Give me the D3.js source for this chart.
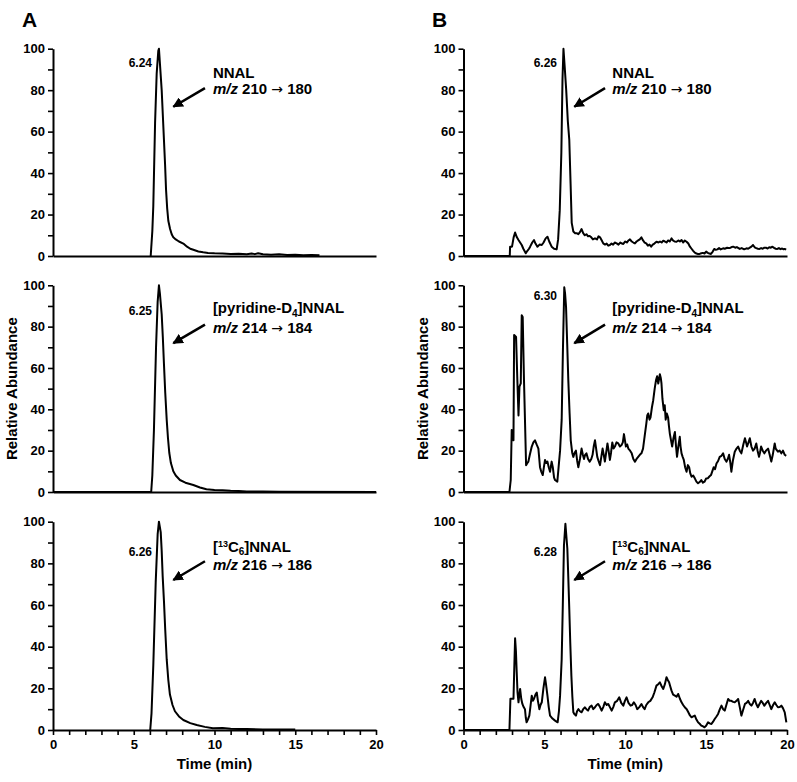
<!DOCTYPE html>
<html><head><meta charset="utf-8">
<script src="https://cdn.jsdelivr.net/npm/d3@7"></script>
<style>
body{margin:0;background:#fff;}
svg text{font-family:"Liberation Sans",Arial,sans-serif;font-weight:bold;fill:#000;}
</style></head>
<body><svg id="c" width="797" height="782"></svg>
<script>
// ---------- DATA ----------
const xTicks = [0,5,10,15,20];
const yTicks = [0,20,40,60,80,100];
const panelLetters = ["A","B"];
const peakLabels = [["6.24","6.25","6.26"],["6.26","6.30","6.28"]];
const compounds = ["NNAL","[pyridine-D4]NNAL","[13C6]NNAL"];
const transitions = [["210","180"],["214","184"],["216","186"]];

// Panel A (standard) traces: [time, relative abundance]
const traceA1 = [[6.05,0],[6.15,12],[6.21,24],[6.32,64],[6.42,88],[6.52,99],[6.56,100],[6.62,93],[6.73,80],[6.8,68],[6.87,56],[6.94,44],[7.0,32],[7.07,23],[7.14,17],[7.25,13],[7.35,10.5],[7.45,9],[7.6,8],[7.8,7],[8.07,6],[8.3,4.5],[8.5,3.5],[8.69,3],[9.0,2.2],[9.3,1.8],[9.6,1.5],[10.0,1.3],[10.5,1.2],[11.0,1.0],[11.5,1.1],[12.0,0.8],[12.3,1.2],[12.5,0.9],[12.7,1.3],[13.0,0.8],[13.5,0.6],[14.0,0.9],[14.5,0.5],[15.0,0.6],[15.5,0.4],[16.0,0.5],[16.5,0.4]];
const traceA2 = [[0,0],[6.08,0],[6.15,8],[6.25,30],[6.38,70],[6.48,92],[6.56,100],[6.62,96],[6.73,86],[6.8,75],[6.87,62],[6.95,48],[7.04,35],[7.12,26],[7.2,19],[7.3,14],[7.45,10],[7.6,8],[7.86,5.8],[8.2,4.5],[8.69,3.4],[9.1,2.2],[9.5,1.3],[10.0,1],[10.5,0.8],[11.0,0.6],[11.5,0.5],[12.0,0.3],[13,0.2],[14,0.1],[20,0]];
const traceA3 = [[6.02,0],[6.1,8],[6.21,31],[6.36,71],[6.48,94],[6.56,100],[6.67,95],[6.73,86],[6.79,74],[6.87,62],[6.95,48],[7.04,34],[7.14,24],[7.24,17],[7.4,12],[7.55,9],[7.8,6.5],[8.07,4.8],[8.5,3.3],[8.9,2.4],[9.4,1.5],[9.9,0.8],[10.5,1],[11,0.6],[11.5,0.5],[12,0.5],[13,0.3],[14,0.2],[15,0.2]];

// Panel B (sample) traces
const traceB1 = [[0,0],[2.86,0],[2.88,4.5],[3.0,4.5],[3.1,9],[3.19,11.3],[3.3,9],[3.4,7.7],[3.5,6.5],[3.6,5.3],[3.7,3.5],[3.85,1.3],[3.95,2.5],[4.05,3.5],[4.12,4.5],[4.25,6.5],[4.36,7.7],[4.45,6],[4.57,4.5],[4.7,5.5],[4.84,5.3],[4.95,6.5],[5.08,8.5],[5.19,9.3],[5.3,7],[5.45,4.5],[5.6,3.5],[5.76,3.2],[5.85,8],[5.95,22],[6.05,50],[6.12,85],[6.18,100],[6.25,92],[6.35,80],[6.45,65],[6.54,56],[6.62,35],[6.69,16],[6.79,11.8],[6.9,11],[7.0,11],[7.1,10.5],[7.2,11.5],[7.3,13],[7.4,11],[7.5,10],[7.6,10.5],[7.7,9.5],[7.8,9.7],[7.9,9],[8.0,8],[8.13,8.5],[8.25,8],[8.35,9.5],[8.44,9],[8.55,7.5],[8.64,6.1],[8.75,5.5],[8.85,6],[8.95,5],[9.05,5.3],[9.15,6],[9.25,5.5],[9.35,6.5],[9.47,6.1],[9.58,5.5],[9.7,6.5],[9.8,6],[9.88,5.8],[10.0,7],[10.1,6.5],[10.2,7.5],[10.29,8],[10.4,7],[10.5,6.5],[10.6,6.1],[10.7,7],[10.8,7.5],[10.9,8],[11.0,9],[11.1,7.5],[11.2,6.5],[11.3,6.1],[11.4,5],[11.5,5.5],[11.6,4.5],[11.7,5.5],[11.8,6],[11.93,6.9],[12.05,6.5],[12.15,7],[12.25,6.5],[12.35,7.4],[12.45,7],[12.55,6.5],[12.65,7.5],[12.75,7],[12.86,8.5],[12.95,7.5],[13.05,7],[13.17,6.9],[13.28,7.5],[13.38,7],[13.48,7.7],[13.58,6.5],[13.68,7.5],[13.79,6.9],[13.9,6],[14.0,4.5],[14.1,3.5],[14.2,2.5],[14.3,1.6],[14.4,1.2],[14.5,1],[14.6,1],[14.7,1.3],[14.8,1.5],[14.9,1.2],[15.0,2.1],[15.1,1.5],[15.2,1.2],[15.3,1],[15.4,2],[15.5,3.4],[15.6,3],[15.7,3.2],[15.8,3.8],[15.9,3.2],[16.05,3.7],[16.15,3.5],[16.3,4],[16.45,3.8],[16.55,4.2],[16.67,4.5],[16.8,4],[16.9,4.3],[17.0,3.8],[17.08,3.4],[17.2,3.8],[17.35,3.2],[17.5,3.7],[17.6,3.5],[17.7,4],[17.8,4.5],[17.9,5.3],[18.0,4.2],[18.1,3.8],[18.2,3.5],[18.3,3.4],[18.4,3.8],[18.5,3.5],[18.6,4],[18.7,4],[18.8,3.6],[18.9,4.2],[19.0,4],[19.1,4.5],[19.2,3.9],[19.3,3.5],[19.4,3.4],[19.5,3.8],[19.6,3.3],[19.7,3.6],[19.8,3.2],[19.86,3.4],[19.95,3.1]];
const traceB2 = [[0,0],[2.84,0],[2.92,5.8],[2.98,30],[3.05,28],[3.09,25],[3.13,76],[3.25,75],[3.33,54],[3.4,37],[3.46,51],[3.54,52.5],[3.6,85.5],[3.66,84.7],[3.74,54],[3.87,13],[3.95,14],[4.01,14.7],[4.1,18],[4.22,22],[4.32,24],[4.42,25],[4.52,23],[4.63,21],[4.73,12],[4.8,10],[4.9,8.2],[4.97,12],[5.04,15.5],[5.12,14],[5.19,14.7],[5.27,12],[5.35,9.8],[5.45,14.7],[5.52,12],[5.6,7],[5.66,5.8],[5.8,5],[5.88,12],[5.97,20],[6.07,35],[6.15,70],[6.23,99],[6.28,96],[6.34,89.5],[6.41,72],[6.48,54],[6.56,38],[6.63,25],[6.72,19],[6.79,17],[6.87,19],[6.95,20],[7.03,15],[7.1,12],[7.2,16],[7.3,21],[7.38,18],[7.45,16],[7.52,18],[7.6,18.7],[7.7,16],[7.8,14.7],[7.9,16],[7.98,18],[8.05,22],[8.13,25],[8.2,21],[8.27,17],[8.35,15],[8.44,13],[8.52,17],[8.6,21],[8.67,18],[8.74,14.7],[8.82,19],[8.9,23.5],[8.97,20],[9.05,15.5],[9.12,19],[9.2,24],[9.28,21],[9.36,22],[9.46,24],[9.57,23.5],[9.67,22],[9.77,22.7],[9.85,24],[9.92,28],[9.98,25],[10.04,22],[10.12,23],[10.19,21],[10.3,20],[10.4,18.7],[10.5,16],[10.6,14.7],[10.7,16],[10.8,17],[10.9,18],[11.0,18.7],[11.1,21],[11.2,27],[11.3,33],[11.36,37],[11.42,38],[11.5,35],[11.56,36],[11.65,41],[11.73,44.4],[11.82,50],[11.9,54],[11.97,56],[12.04,52.5],[12.1,55],[12.14,57],[12.2,55],[12.24,52.5],[12.3,45],[12.38,39.6],[12.44,42],[12.5,35],[12.57,38],[12.65,36],[12.7,32],[12.76,28],[12.83,25],[12.9,22],[12.98,26],[13.07,29],[13.14,22],[13.2,17],[13.28,22],[13.37,26.7],[13.42,22],[13.48,18.7],[13.55,17],[13.62,15.5],[13.7,12],[13.79,9.8],[13.87,13],[13.95,12],[14.02,9],[14.1,7.4],[14.2,8],[14.3,6.6],[14.4,5],[14.5,4.2],[14.6,4.8],[14.7,5.8],[14.8,4.5],[14.9,5],[15.0,6.5],[15.1,6.6],[15.2,7.5],[15.3,8.2],[15.38,10],[15.47,12],[15.55,11],[15.64,13.8],[15.74,15],[15.84,17],[15.95,17.5],[16.05,18.7],[16.15,16],[16.26,14.7],[16.34,16],[16.42,18],[16.5,14],[16.56,9.8],[16.65,15],[16.77,19.5],[16.88,21],[16.98,22],[17.08,20],[17.18,18.7],[17.3,23],[17.4,26],[17.47,24],[17.53,22],[17.62,24],[17.7,26],[17.8,22],[17.9,20],[18.0,21],[18.1,23.5],[18.18,20],[18.27,17],[18.33,19],[18.4,22],[18.5,20],[18.6,18.7],[18.7,20],[18.83,21],[18.93,18],[19.03,14.7],[19.12,18],[19.24,23.5],[19.3,21],[19.44,19.5],[19.55,20],[19.65,18.7],[19.75,20],[19.86,18],[19.95,17.5]];
const traceB3 = [[0,0],[2.84,0],[2.9,15],[3.0,15],[3.09,15],[3.14,30],[3.19,44],[3.24,38],[3.29,27.7],[3.34,18],[3.4,13.3],[3.45,17],[3.5,19.7],[3.57,15],[3.64,12.5],[3.72,11],[3.8,10],[3.85,6],[3.9,3.7],[3.98,5],[4.07,6.9],[4.15,12],[4.22,16.5],[4.29,14],[4.36,15],[4.45,17],[4.53,18],[4.6,14],[4.69,10],[4.76,12],[4.84,13.3],[4.94,20],[5.04,25.3],[5.1,22],[5.19,16.5],[5.27,11],[5.35,6.9],[5.5,5.5],[5.66,4.5],[5.82,3.7],[5.9,9],[5.97,16.5],[6.07,34],[6.14,60],[6.21,88.5],[6.3,99],[6.36,93],[6.42,87],[6.48,73],[6.54,58],[6.6,42],[6.67,26],[6.73,16],[6.79,8.5],[6.87,7.5],[6.95,6.9],[7.02,9],[7.1,10],[7.2,9],[7.3,8.5],[7.4,10],[7.5,10.9],[7.6,10],[7.7,9.3],[7.8,11],[7.92,11.7],[8.02,10],[8.13,10.9],[8.23,12],[8.33,12.5],[8.44,11],[8.54,9.3],[8.64,11],[8.74,13.3],[8.85,12],[8.95,12.5],[9.05,11],[9.16,9.3],[9.26,11],[9.36,13.3],[9.5,14],[9.63,15.7],[9.75,13],[9.88,11.7],[9.98,14],[10.08,15.7],[10.2,13],[10.33,11.7],[10.43,12],[10.53,13.3],[10.64,12],[10.74,10],[10.87,11],[11.0,12.5],[11.1,11],[11.2,10],[11.3,12],[11.42,13.3],[11.55,14],[11.69,15.7],[11.8,18],[11.93,21.3],[12.04,22],[12.14,22.9],[12.25,21],[12.35,19.7],[12.45,22],[12.55,25.3],[12.63,24],[12.71,22.9],[12.78,21],[12.86,18.9],[12.96,17],[13.07,16.5],[13.17,16],[13.27,17.3],[13.38,15],[13.48,13.3],[13.58,12],[13.68,10.9],[13.8,10],[13.9,8.5],[14.0,7],[14.1,6.1],[14.2,6.5],[14.3,6.9],[14.4,5],[14.5,3.7],[14.6,3],[14.7,2.1],[14.8,1.8],[14.9,1.3],[15.0,2],[15.12,3.7],[15.22,3.2],[15.33,2.9],[15.43,4],[15.53,5.3],[15.64,6.5],[15.74,7.7],[15.85,10],[15.95,11.7],[16.05,10],[16.15,9.3],[16.25,12],[16.36,14.9],[16.46,14],[16.56,14],[16.67,13.5],[16.77,13.3],[16.88,14],[16.98,14.9],[17.08,11],[17.18,6.9],[17.3,10],[17.4,12.5],[17.5,13],[17.6,14],[17.7,12.5],[17.8,11.7],[17.9,13],[18.0,14.9],[18.1,12.5],[18.2,10.9],[18.3,12.5],[18.4,14],[18.5,13],[18.6,11.7],[18.72,13],[18.83,14],[18.93,12],[19.03,10],[19.14,12],[19.24,13.3],[19.34,12],[19.44,10.9],[19.55,11],[19.65,11.7],[19.75,10.5],[19.86,8.5],[19.96,3.7]];

const traces = [[traceA1,traceA2,traceA3],[traceB1,traceB2,traceB3]];

// ---------- LAYOUT ----------
const cols = [{x0:53,x1:376,letterX:22,ylabX:12},{x0:463.5,x1:787,letterX:432,ylabX:423}];
const rows = [{top:48.7,bot:256},{top:285.3,bot:492},{top:521.7,bot:730}];
const annot = [
  {peakX:6.13, textX:9.9, arrowFrom:[9.41,81], arrowTo:[7.45,72]},
  {peakX:5.78, textX:9.2, arrowFrom:[8.75,81], arrowTo:[6.85,72]}
];
const peakY = [[91.3,85.5,83.5],[91.3,92.8,83.5]];
const line1Y = [86,86.5,85.3];
const line2Y = [78.3,76.8,76.6];

const svg = d3.select("#c");
svg.append("defs").append("marker")
  .attr("id","ah").attr("viewBox","0 0 10 10").attr("refX",9).attr("refY",5)
  .attr("markerWidth",4.2).attr("markerHeight",4.2).attr("orient","auto")
  .attr("markerUnits","strokeWidth")
  .append("path").attr("d","M0,0 L10,5 L0,10 z").attr("fill","#000");

const tickFont = g => g.selectAll(".tick text").attr("font-size",13)
  .attr("font-family","Liberation Sans, Arial").attr("font-weight","bold").attr("fill","#000");

cols.forEach((c,ci)=>{
  svg.append("text").attr("x",c.letterX).attr("y",27).attr("font-size",21).text(panelLetters[ci]);
  rows.forEach((r,ri)=>{
    const x = d3.scaleLinear().domain([0,20]).range([c.x0,c.x1]);
    const y = d3.scaleLinear().domain([0,100]).range([r.bot,r.top]);
    const g = svg.append("g");
    const ya = g.append("g").attr("transform",`translate(${c.x0},0)`)
      .call(d3.axisLeft(y).tickValues(d3.range(0,101,10)).tickSize(5).tickSizeOuter(0).tickPadding(3)
        .tickFormat(d=> yTicks.includes(d)? d : ""));
    ya.select(".domain").attr("stroke","#000").attr("stroke-width",2);
    ya.selectAll(".tick line").attr("stroke","#000").attr("stroke-width",1.6);
    tickFont(ya);
    const xa = g.append("g").attr("transform",`translate(0,${r.bot})`);
    if(ri===2){
      xa.call(d3.axisBottom(x).tickValues(d3.range(0,21,1)).tickSize(5).tickSizeOuter(0).tickPadding(5)
        .tickFormat(d=> xTicks.includes(d)? d : ""));
      xa.selectAll(".tick line").attr("stroke","#000").attr("stroke-width",1.6);
      tickFont(xa);
    } else {
      xa.call(d3.axisBottom(x).tickValues([]).tickSizeOuter(0));
    }
    xa.select(".domain").attr("stroke","#000").attr("stroke-width",2);
    const line = d3.line().x(d=>x(d[0])).y(d=>y(d[1]));
    g.append("path").datum(traces[ci][ri]).attr("d",line)
      .attr("fill","none").attr("stroke","#000").attr("stroke-width",2).attr("stroke-linejoin","round");
    g.append("text").attr("x",x(annot[ci].peakX)).attr("y",y(peakY[ci][ri]))
      .attr("text-anchor","end").attr("font-size",12).text(peakLabels[ci][ri]);
    const t1 = g.append("text").attr("x",x(annot[ci].textX)).attr("y",y(line1Y[ri])).attr("font-size",15);
    if(ri===0){ t1.text(compounds[0]); }
    else if(ri===1){
      t1.append("tspan").text("[pyridine-D");
      t1.append("tspan").attr("font-size",10).attr("dy",4).text("4");
      t1.append("tspan").attr("dy",-4).text("]NNAL");
    } else {
      t1.append("tspan").text("[");
      t1.append("tspan").attr("font-size",9).attr("dy",-5.5).text("13");
      t1.append("tspan").attr("dy",5.5).text("C");
      t1.append("tspan").attr("font-size",10).attr("dy",2.5).text("6");
      t1.append("tspan").attr("dy",-2.5).text("]NNAL");
    }
    const t2 = g.append("text").attr("x",x(annot[ci].textX)).attr("y",y(line2Y[ri])).attr("font-size",15);
    t2.append("tspan").attr("font-style","italic").text("m/z");
    t2.append("tspan").text(" " + transitions[ri][0] + " ");
    t2.append("tspan").attr("font-family","DejaVu Sans").attr("font-weight","normal").attr("font-size",14).text("\u2192");
    t2.append("tspan").text(" " + transitions[ri][1]);
    g.append("line")
      .attr("x1",x(annot[ci].arrowFrom[0])).attr("y1",y(annot[ci].arrowFrom[1]))
      .attr("x2",x(annot[ci].arrowTo[0])).attr("y2",y(annot[ci].arrowTo[1]))
      .attr("stroke","#000").attr("stroke-width",2.5).attr("marker-end","url(#ah)");
  });
  svg.append("text").attr("transform",`translate(${c.ylabX+5},${(rows[1].top+rows[1].bot)/2}) rotate(-90)`)
    .attr("text-anchor","middle").attr("font-size",15).text("Relative Abundance");
  svg.append("text").attr("x",(c.x0+c.x1)/2).attr("y",769).attr("text-anchor","middle").attr("font-size",15).text("Time (min)");
});
</script></body></html>
